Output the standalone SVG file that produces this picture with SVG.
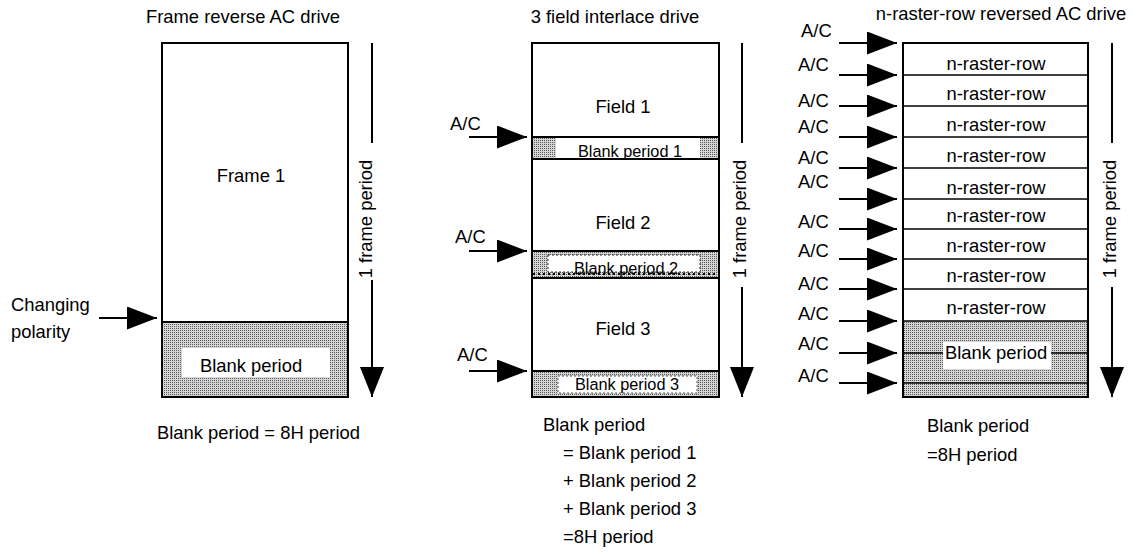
<svg xmlns="http://www.w3.org/2000/svg" width="1133" height="552" viewBox="0 0 1133 552">
<style>
text{font-family:"Liberation Sans",Arial,sans-serif;font-size:18.4px;fill:#000}
.sm{font-size:16.3px}
.mid{text-anchor:middle}
.box{fill:#fff;stroke:#000;stroke-width:2}
.ln{stroke:#000;stroke-width:2;fill:none}
.thin{stroke:#000;stroke-width:1.5;fill:none}
.st{fill:url(#stip);stroke:none}
.wb{fill:#fff;stroke:none}
.ah{fill:#000;stroke:none}
</style>
<defs>
<pattern id="stip" width="2" height="2" patternUnits="userSpaceOnUse">
<rect width="2" height="2" fill="#d4d4d4"/>
<rect width="1" height="1" fill="#5a5a5a"/>
</pattern>
<marker id="ha" markerWidth="30" markerHeight="23" refX="30" refY="11.5" orient="auto" markerUnits="userSpaceOnUse">
<path d="M0,0 L30,11.5 L0,23 Z" fill="#000"/>
</marker>
</defs>

<!-- Panel 1 -->
<g id="title1"><text x="243" y="23" class="mid">Frame reverse AC drive</text></g>
<g id="frame1">
<rect x="162" y="43" width="186" height="354" class="box"/>
<text x="251" y="182" class="mid">Frame 1</text>
</g>
<g id="blank1">
<rect x="163" y="322" width="184" height="74" class="st"/>
<line x1="162" y1="322" x2="348" y2="322" class="ln"/>
<rect x="182" y="348" width="148" height="29" class="wb"/>
<text x="251" y="372" class="mid">Blank period</text>
<rect x="162" y="43" width="186" height="354" fill="none" stroke="#000" stroke-width="2"/>
</g>
<g id="changing">
<text x="11" y="311">Changing</text>
<text x="11" y="338">polarity</text>
</g>
<g id="period1">
<text transform="translate(372,219) rotate(-90)" class="mid">1 frame period</text>
</g>
<g id="note1"><text x="157" y="439">Blank period = 8H period</text></g>

<!-- Panel 2 -->
<g id="title2"><text x="615" y="23" class="mid">3 field interlace drive</text></g>
<g id="field1">
<rect x="532" y="43" width="187" height="94" class="box"/>
<text x="623" y="113" class="mid">Field 1</text>
</g>
<g id="bp1">
<rect x="532" y="137" width="187" height="22" class="box"/>
<rect x="533" y="138" width="23" height="20" class="st"/>
<rect x="700" y="138" width="18" height="20" class="st"/>
<text x="630" y="157" class="mid sm">Blank period 1</text>
</g>
<g id="field2">
<rect x="532" y="159" width="187" height="92" class="box"/>
<text x="623" y="229" class="mid">Field 2</text>
</g>
<g id="bp2">
<rect x="532" y="251" width="187" height="27" class="box"/>
<rect x="533" y="252" width="185" height="25" class="st"/>
<rect x="548" y="255" width="152" height="17" fill="#fff" stroke="#333" stroke-width="1" stroke-dasharray="2,2"/>
<line x1="533" y1="274" x2="718" y2="274" stroke="#000" stroke-width="2" stroke-dasharray="2,3"/>
<text x="626" y="274" class="mid sm">Blank period 2</text>
</g>
<g id="field3">
<rect x="532" y="278" width="187" height="93" class="box"/>
<text x="623" y="335" class="mid">Field 3</text>
</g>
<g id="bp3">
<rect x="532" y="371" width="187" height="26" class="box"/>
<rect x="533" y="372" width="185" height="24" class="st"/>
<rect x="558" y="376" width="139" height="17" fill="#fff" stroke="#555" stroke-width="1" stroke-dasharray="2,2"/>
<text x="627" y="390" class="mid sm">Blank period 3</text>
</g>
<g id="ac2">
<text x="450" y="130">A/C</text>
<text x="455" y="243">A/C</text>
<text x="457" y="361">A/C</text>
</g>
<g id="period2">
<text transform="translate(746,219) rotate(-90)" class="mid">1 frame period</text>
</g>
<g id="note2">
<text x="543" y="431">Blank period</text>
<text x="563" y="459">= Blank period 1</text>
<text x="563" y="487">+ Blank period 2</text>
<text x="563" y="515">+ Blank period 3</text>
<text x="563" y="543">=8H period</text>
</g>

<!-- Panel 3 -->
<g id="title3"><text x="1001" y="20" class="mid">n-raster-row reversed AC drive</text></g>
<g id="rows">
<rect x="903" y="43" width="185" height="354" class="box"/>
<rect x="904" y="321" width="183" height="75" class="st"/>
<line x1="903" y1="75" x2="1088" y2="75" class="thin"/>
<line x1="903" y1="106" x2="1088" y2="106" class="thin"/>
<line x1="903" y1="137" x2="1088" y2="137" class="thin"/>
<line x1="903" y1="168" x2="1088" y2="168" class="thin"/>
<line x1="903" y1="199" x2="1088" y2="199" class="thin"/>
<line x1="903" y1="229" x2="1088" y2="229" class="thin"/>
<line x1="903" y1="259" x2="1088" y2="259" class="thin"/>
<line x1="903" y1="289" x2="1088" y2="289" class="thin"/>
<line x1="903" y1="321" x2="1088" y2="321" class="thin"/>
<line x1="903" y1="353" x2="1088" y2="353" class="thin"/>
<line x1="903" y1="383" x2="1088" y2="383" class="thin"/>
<text x="996" y="70" class="mid">n-raster-row</text>
<text x="996" y="100" class="mid">n-raster-row</text>
<text x="996" y="131" class="mid">n-raster-row</text>
<text x="996" y="162" class="mid">n-raster-row</text>
<text x="996" y="194" class="mid">n-raster-row</text>
<text x="996" y="222" class="mid">n-raster-row</text>
<text x="996" y="252" class="mid">n-raster-row</text>
<text x="996" y="282" class="mid">n-raster-row</text>
<text x="996" y="314" class="mid">n-raster-row</text>
<rect x="943" y="342" width="108" height="27" class="wb"/>
<text x="996" y="359" class="mid">Blank period</text>
<rect x="903" y="43" width="185" height="354" fill="none" stroke="#000" stroke-width="2"/>
</g>
<g id="ac3">
<text x="801" y="37">A/C</text>
<text x="798" y="71">A/C</text>
<text x="798" y="107">A/C</text>
<text x="798" y="133">A/C</text>
<text x="798" y="164">A/C</text>
<text x="798" y="188">A/C</text>
<text x="798" y="228">A/C</text>
<text x="798" y="257">A/C</text>
<text x="798" y="290">A/C</text>
<text x="798" y="320">A/C</text>
<text x="798" y="350">A/C</text>
<text x="798" y="382">A/C</text>
</g>
<g id="period3">
<text transform="translate(1116,219) rotate(-90)" class="mid">1 frame period</text>
</g>
<g id="note3">
<text x="927" y="432">Blank period</text>
<text x="927" y="461">=8H period</text>
</g>

<!-- Connectors -->
<g id="connectors">
<line x1="99" y1="318" x2="157" y2="318" class="ln" marker-end="url(#ha)"/>
<line x1="372" y1="43" x2="372" y2="143" class="ln"/>
<line x1="372" y1="280" x2="372" y2="397" class="ln"/>
<polygon points="360,367 384,367 372,397" class="ah"/>

<line x1="469" y1="137" x2="527" y2="137" class="ln" marker-end="url(#ha)"/>
<line x1="469" y1="251" x2="527" y2="251" class="ln" marker-end="url(#ha)"/>
<line x1="469" y1="371" x2="527" y2="371" class="ln" marker-end="url(#ha)"/>
<line x1="742" y1="43" x2="742" y2="143" class="ln"/>
<line x1="742" y1="287" x2="742" y2="397" class="ln"/>
<polygon points="730,367 754,367 742,397" class="ah"/>

<line x1="839" y1="43" x2="897" y2="43" class="ln" marker-end="url(#ha)"/>
<line x1="839" y1="75" x2="897" y2="75" class="ln" marker-end="url(#ha)"/>
<line x1="839" y1="106" x2="897" y2="106" class="ln" marker-end="url(#ha)"/>
<line x1="839" y1="137" x2="897" y2="137" class="ln" marker-end="url(#ha)"/>
<line x1="839" y1="168" x2="897" y2="168" class="ln" marker-end="url(#ha)"/>
<line x1="839" y1="199" x2="897" y2="199" class="ln" marker-end="url(#ha)"/>
<line x1="839" y1="229" x2="897" y2="229" class="ln" marker-end="url(#ha)"/>
<line x1="839" y1="259" x2="897" y2="259" class="ln" marker-end="url(#ha)"/>
<line x1="839" y1="289" x2="897" y2="289" class="ln" marker-end="url(#ha)"/>
<line x1="839" y1="321" x2="897" y2="321" class="ln" marker-end="url(#ha)"/>
<line x1="839" y1="353" x2="897" y2="353" class="ln" marker-end="url(#ha)"/>
<line x1="839" y1="383" x2="897" y2="383" class="ln" marker-end="url(#ha)"/>
<line x1="1112" y1="43" x2="1112" y2="143" class="ln"/>
<line x1="1112" y1="287" x2="1112" y2="397" class="ln"/>
<polygon points="1100,367 1124,367 1112,397" class="ah"/>
</g>
</svg>
